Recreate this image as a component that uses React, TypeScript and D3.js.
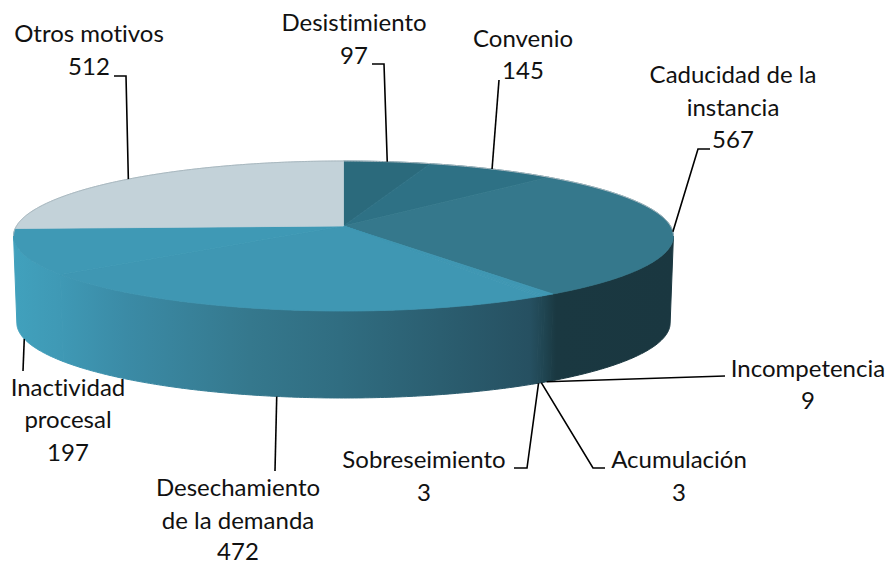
import React from 'react';
import * as d3 from 'd3';

const width = 891;
const height = 564;

// values, clockwise from 12 o'clock
const categories = ['Desistimiento', 'Convenio', 'Caducidad de la instancia', 'Incompetencia', 'Acumulación', 'Sobreseimiento', 'Desechamiento de la demanda', 'Inactividad procesal', 'Otros motivos'];
const values = [97, 145, 567, 9, 3, 3, 472, 197, 512];
const topColors = ['#2b6a7c', '#2e7185', '#35788c', '#3f97b3', '#3f97b3', '#3f97b3', '#3f97b3', '#3f99b5', '#c3d2d9'];

// label layout, same order as categories
const labelLines = [
  ['Desistimiento', '97'],
  ['Convenio', '145'],
  ['Caducidad de la', 'instancia', '567'],
  ['Incompetencia', '9'],
  ['Acumulación', '3'],
  ['Sobreseimiento', '3'],
  ['Desechamiento', 'de la demanda', '472'],
  ['Inactividad', 'procesal', '197'],
  ['Otros motivos', '512'],
];
const labelX = [354, 523, 733, 808, 679, 424, 238, 68, 89];
const labelBase = [
  [31, 64],
  [47, 79],
  [83, 116, 148],
  [377, 409],
  [468, 501],
  [468, 501],
  [496, 529, 560],
  [396, 428, 461],
  [42, 75],
];
const leaderBends = [
  [[384, 64], [372, 64]],
  [[499, 80]],
  [[698, 149], [710, 149]],
  [[725, 376]],
  [[593, 468], [605, 468]],
  [[527, 468], [514, 468]],
  [[275, 471]],
  [[23, 371]],
  [[126, 76], [114, 76]],
];

// side wall shading, left to right
const wallX = [13, 60, 125, 250, 340, 440, 530, 545, 556, 674];
const wallColor = ['#41a1bd', '#3f99b5', '#3b8ba6', '#35788d', '#306d81', '#2b5e70', '#265061', '#1f4450', '#1a3841', '#1a3740'];

// perspective pie: the circle centre sits above the middle of the ellipse
const cx = 343.5;
const cy = 226;
const radiusX = 327;
const radiusY = 73.67;
const tilt = 0.1333;
const depth = 87;
const bottomShrink = 0.99;

const project = (a: number, bottom = false): [number, number] => {
  const w = 1 + tilt * Math.cos(a);
  const x = (radiusX * Math.sin(a)) / w;
  const y = (-radiusY * Math.cos(a)) / w;
  return bottom ? [cx + x * bottomShrink, cy + y + depth] : [cx + x, cy + y];
};

const sweep = (a0: number, a1: number, bottom = false) => {
  const n = Math.max(2, Math.ceil(Math.abs(a1 - a0) / 0.01));
  return d3.range(n + 1).map(i => project(a0 + ((a1 - a0) * i) / n, bottom));
};

const App = () => {
  const arcs = d3.pie<number>().sort(null)(values);
  const line = d3.line();
  // the wall only shows between the two silhouette points
  const wallFrom = Math.acos(-tilt);
  const wallTo = 2 * Math.PI - wallFrom;

  return (
    <svg width={width} height={height} style={{ position: 'absolute', left: 0, top: 0, fontFamily: 'Lato, sans-serif', fontVariantLigatures: 'none' }}>
      <defs>
        <linearGradient id="wall" gradientUnits="userSpaceOnUse" x1={wallX[0]} x2={wallX[wallX.length - 1]} y1={0} y2={0}>
          {wallX.map((x, i) => (
            <stop key={x} offset={(x - wallX[0]) / (wallX[wallX.length - 1] - wallX[0])} stopColor={wallColor[i]} />
          ))}
        </linearGradient>
      </defs>

      {arcs.map((d, i) => {
        const a0 = Math.max(d.startAngle, wallFrom);
        const a1 = Math.min(d.endAngle, wallTo);
        if (a1 <= a0) return null;
        const pts = [...sweep(a0, a1), ...sweep(a1, a0, true)];
        return <path key={categories[i]} d={line(pts) + 'Z'} fill="url(#wall)" stroke="url(#wall)" strokeWidth={1} />;
      })}

      {arcs.map((d, i) => (
        <path
          key={categories[i]}
          d={line([[cx, cy], ...sweep(d.startAngle, d.endAngle)]) + 'Z'}
          fill={topColors[i]}
          stroke={topColors[i]}
          strokeWidth={0.8}
        />
      ))}
      <path d={line(sweep(-wallFrom, wallFrom)) as string} fill="none" stroke="#a9b8bf" strokeWidth={1} />

      {arcs.map((d, i) => {
        const mid = (d.startAngle + d.endAngle) / 2;
        const front = Math.cos(mid) < -tilt;
        const pts = [project(mid, front), ...leaderBends[i]] as [number, number][];
        return <path key={categories[i]} d={line(pts) as string} fill="none" stroke="#000" strokeWidth={1.6} />;
      })}

      {labelLines.map((lines, i) =>
        lines.map((t, j) => (
          <text key={i + '-' + j} x={labelX[i]} y={labelBase[i][j]} textAnchor="middle" fontSize={24} fill="#111">
            {t}
          </text>
        )),
      )}
    </svg>
  );
};

export default App;
